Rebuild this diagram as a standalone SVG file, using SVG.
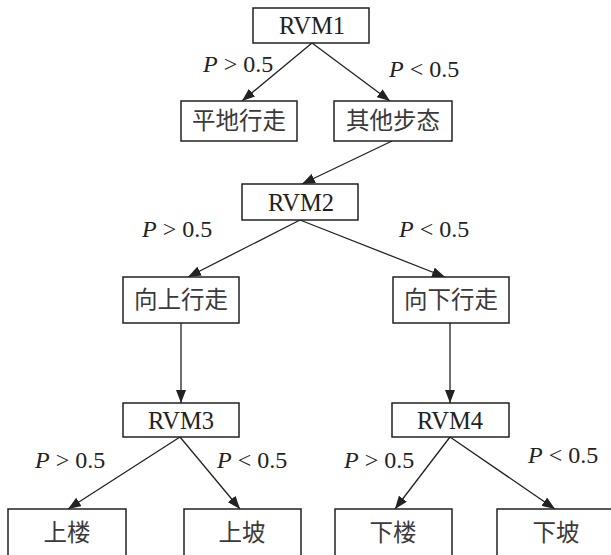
<svg xmlns="http://www.w3.org/2000/svg" width="611" height="555" viewBox="0 0 611 555">
<style>
.box{fill:#fff;stroke:#222;stroke-width:1.5}
.t{font-family:"Liberation Serif","Noto Sans CJK SC",serif;font-size:24.5px;fill:#222;text-anchor:middle}
.cn{font-family:"Noto Sans CJK SC","Liberation Sans",sans-serif;font-size:23.5px;fill:#3a3a3a;text-anchor:middle}
.lab{font-family:"Liberation Serif",serif;font-size:24px;fill:#222}
.lab .p{font-style:italic}
.c line{stroke:#222;stroke-width:1.3;marker-end:url(#ah)}
</style>
<defs>
<marker id="ah" markerUnits="userSpaceOnUse" markerWidth="14" markerHeight="10" refX="13" refY="5" orient="auto">
<path d="M0,0 L13,5 L0,10 z" fill="#222"/>
</marker>
</defs>
<rect width="611" height="555" fill="#fff"/>
<g class="c" id="connectors">
<line x1="312" y1="43" x2="242" y2="101"/>
<line x1="312" y1="43" x2="390" y2="101"/>
<line x1="392" y1="141" x2="302" y2="184"/>
<line x1="300" y1="220" x2="188" y2="277"/>
<line x1="300" y1="220" x2="445" y2="277"/>
<line x1="181" y1="323" x2="181" y2="403"/>
<line x1="450" y1="323" x2="450" y2="403"/>
<line x1="180" y1="437" x2="68" y2="509"/>
<line x1="180" y1="437" x2="240" y2="509"/>
<line x1="450" y1="437" x2="395" y2="509"/>
<line x1="450" y1="437" x2="555" y2="509"/>
</g>
<g id="labels">
<text class="lab" x="203" y="72"><tspan class="p">P</tspan> &gt; 0.5</text>
<text class="lab" x="389" y="77"><tspan class="p">P</tspan> &lt; 0.5</text>
<text class="lab" x="142" y="237"><tspan class="p">P</tspan> &gt; 0.5</text>
<text class="lab" x="399" y="237"><tspan class="p">P</tspan> &lt; 0.5</text>
<text class="lab" x="35" y="468"><tspan class="p">P</tspan> &gt; 0.5</text>
<text class="lab" x="217" y="468"><tspan class="p">P</tspan> &lt; 0.5</text>
<text class="lab" x="344" y="468"><tspan class="p">P</tspan> &gt; 0.5</text>
<text class="lab" x="528" y="463"><tspan class="p">P</tspan> &lt; 0.5</text>
</g>
<g id="rvm1"><rect class="box" x="253" y="8" width="116" height="35"/><text class="t" x="312" y="34">RVM1</text></g>
<g id="pingdi"><rect class="box" x="181" y="101" width="116" height="40"/><text class="cn" x="239" y="129">平地行走</text></g>
<g id="qita"><rect class="box" x="334" y="101" width="118" height="40"/><text class="cn" x="393" y="129">其他步态</text></g>
<g id="rvm2"><rect class="box" x="242" y="184" width="116" height="36"/><text class="t" x="301" y="211">RVM2</text></g>
<g id="xiangshang"><rect class="box" x="123" y="277" width="116" height="46"/><text class="cn" x="181" y="308">向上行走</text></g>
<g id="xiangxia"><rect class="box" x="393" y="277" width="116" height="46"/><text class="cn" x="451" y="308">向下行走</text></g>
<g id="rvm3"><rect class="box" x="123" y="403" width="116" height="34"/><text class="t" x="181" y="429">RVM3</text></g>
<g id="rvm4"><rect class="box" x="392" y="403" width="117" height="34"/><text class="t" x="450" y="429">RVM4</text></g>
<g id="shanglou"><rect class="box" x="8" y="509" width="118" height="52"/><text class="cn" x="67" y="541">上楼</text></g>
<g id="shangpo"><rect class="box" x="184" y="509" width="117" height="52"/><text class="cn" x="242" y="541">上坡</text></g>
<g id="xialou"><rect class="box" x="335" y="509" width="117" height="52"/><text class="cn" x="393" y="541">下楼</text></g>
<g id="xiapo"><rect class="box" x="497" y="509" width="120" height="52"/><text class="cn" x="556" y="541">下坡</text></g>
</svg>
